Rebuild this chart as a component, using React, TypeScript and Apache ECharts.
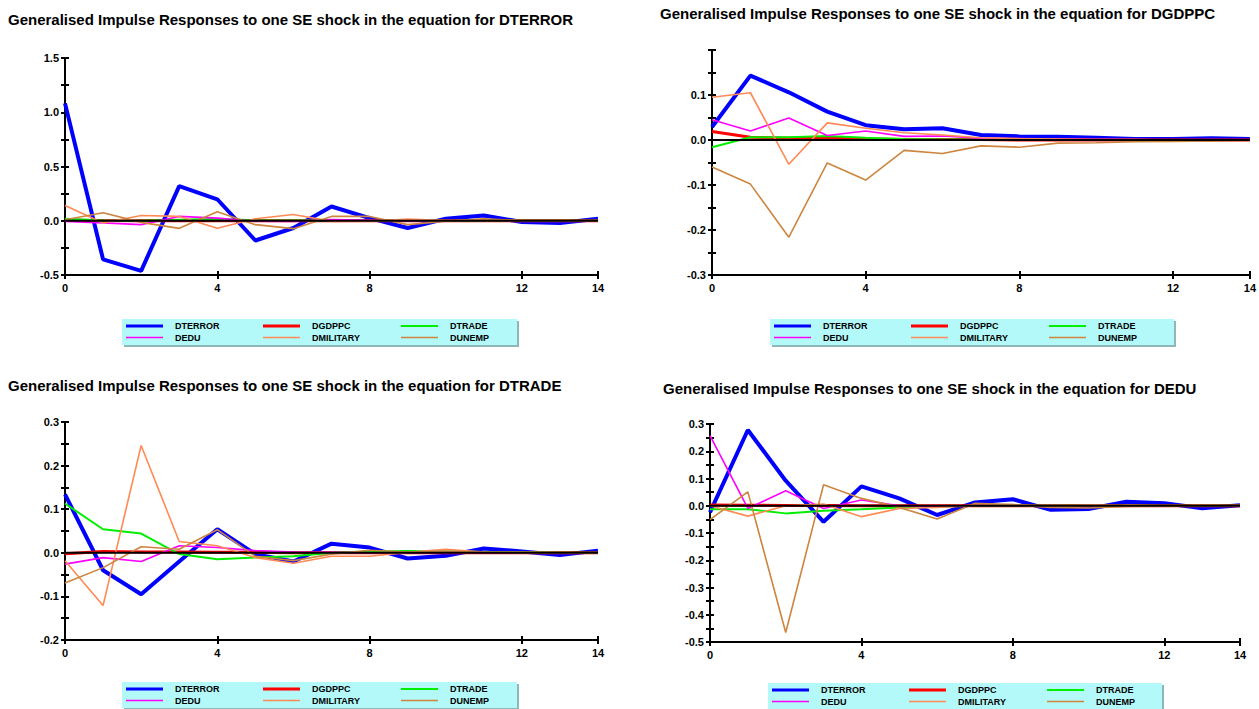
import React, { useEffect, useRef } from "react";
import * as echarts from "echarts";

// Horizon steps
const steps = [0, 1, 2, 3, 4, 5, 6, 7, 8, 9, 10, 11, 12, 13, 14];
const xTickLabels = [0, 4, 8, 12, 14];
const seriesNames = ["DTERROR", "DGDPPC", "DTRADE", "DEDU", "DMILITARY", "DUNEMP"];
const seriesColors = ["#0000ff", "#ff0000", "#00ee00", "#ff00ff", "#ff8a55", "#cd853f"];
const seriesWidths = [4, 3, 2, 1.6, 1.6, 1.6];

const panelTitles = [
  "Generalised Impulse Responses to one SE shock in the equation for DTERROR",
  "Generalised Impulse Responses to one SE shock in the equation for DGDPPC",
  "Generalised Impulse Responses to one SE shock in the equation for DTRADE",
  "Generalised Impulse Responses to one SE shock in the equation for DEDU",
];

// Shock: DTERROR
const terror_DTERROR = [1.082, -0.356, -0.462, 0.319, 0.198, -0.182, -0.067, 0.131, 0.024, -0.067, 0.018, 0.049, -0.012, -0.021, 0.018];
const terror_DGDPPC = [0.004, 0.002, 0.001, 0.002, 0.001, 0, 0, 0, 0, 0, 0, 0, 0, 0, 0];
const terror_DTRADE = [0.018, 0.002, 0.001, 0.01, 0.015, 0.004, 0.002, 0.002, 0.001, 0, 0, 0, 0, 0, 0];
const terror_DEDU = [-0.006, -0.02, -0.036, 0.04, 0.024, -0.004, -0.006, 0.012, 0.004, -0.004, 0.002, 0.002, 0, 0, 0];
const terror_DMILITARY = [0.14, -0.02, 0.049, 0.04, -0.07, 0.018, 0.058, -0.006, -0.004, 0.015, 0.002, 0.004, 0.001, 0, 0];
const terror_DUNEMP = [0.009, 0.073, -0.015, -0.07, 0.082, -0.036, -0.073, 0.04, 0.04, -0.036, -0.004, 0.018, 0.002, -0.002, 0.001];

// Shock: DGDPPC
const gdp_DTERROR = [0.029, 0.143, 0.106, 0.063, 0.033, 0.024, 0.026, 0.011, 0.008, 0.007, 0.005, 0.002, 0.002, 0.004, 0.002];
const gdp_DGDPPC = [0.019, 0.006, 0.004, 0.004, 0.002, 0.001, 0.001, 0.001, 0, 0, 0, 0, 0, 0, 0];
const gdp_DTRADE = [-0.016, 0.006, 0.006, 0.009, 0.005, 0.002, 0.001, 0.001, 0, 0, 0, 0, 0, 0, 0];
const gdp_DEDU = [0.045, 0.02, 0.049, 0.01, 0.02, 0.008, 0.009, 0.004, 0.003, 0.002, 0.001, 0.001, 0, 0, 0];
const gdp_DMILITARY = [0.095, 0.105, -0.054, 0.038, 0.026, 0.016, 0.011, 0.005, 0.003, 0.002, 0.001, 0.001, 0, 0, 0];
const gdp_DUNEMP = [-0.06, -0.098, -0.216, -0.051, -0.089, -0.023, -0.03, -0.013, -0.016, -0.007, -0.006, -0.004, -0.003, -0.002, -0.001];

// Shock: DTRADE
const trade_DTERROR = [0.134, -0.04, -0.095, -0.02, 0.054, -0.003, -0.02, 0.021, 0.012, -0.013, -0.007, 0.01, 0.003, -0.005, 0.005];
const trade_DGDPPC = [-0.002, 0.003, 0.002, 0.002, 0.001, 0.001, 0, 0, 0, 0, 0, 0, 0, 0, 0];
const trade_DTRADE = [0.113, 0.054, 0.044, -0.003, -0.015, -0.011, -0.008, 0, 0.003, 0.004, 0.003, 0.002, 0.001, 0, 0];
const trade_DEDU = [-0.026, -0.011, -0.02, 0.016, 0.012, 0.005, 0.002, 0.001, 0, 0, 0, 0, 0, 0, 0];
const trade_DMILITARY = [-0.018, -0.121, 0.246, 0.026, 0.016, -0.011, -0.024, -0.008, -0.008, 0.001, 0.008, 0.002, 0.001, 0, 0];
const trade_DUNEMP = [-0.069, -0.034, 0.014, 0.008, 0.053, -0.008, -0.018, -0.003, 0.006, 0.002, 0.004, 0.002, 0.001, 0, 0];

// Shock: DEDU
const edu_DTERROR = [-0.024, 0.278, 0.092, -0.059, 0.071, 0.027, -0.034, 0.012, 0.024, -0.015, -0.012, 0.015, 0.009, -0.009, 0.002];
const edu_DGDPPC = [0.003, 0.002, 0.001, 0.001, 0, 0, 0, 0, 0, 0, 0, 0, 0, 0, 0];
const edu_DTRADE = [-0.013, -0.013, -0.028, -0.018, -0.013, -0.006, -0.003, 0, 0.001, 0, 0, 0, 0, 0, 0];
const edu_DEDU = [0.257, -0.01, 0.055, -0.01, 0.021, 0, -0.004, 0.002, 0.001, 0, 0, 0, 0, 0, 0];
const edu_DMILITARY = [0, -0.038, 0, 0.006, -0.04, -0.01, -0.006, 0.002, 0.004, -0.003, 0.002, 0.001, 0, 0, 0];
const edu_DUNEMP = [-0.051, 0.051, -0.465, 0.077, 0.027, -0.006, -0.049, 0.009, 0.004, -0.006, -0.008, -0.003, 0, -0.002, 0];

const panelData = [
  [terror_DTERROR, terror_DGDPPC, terror_DTRADE, terror_DEDU, terror_DMILITARY, terror_DUNEMP],
  [gdp_DTERROR, gdp_DGDPPC, gdp_DTRADE, gdp_DEDU, gdp_DMILITARY, gdp_DUNEMP],
  [trade_DTERROR, trade_DGDPPC, trade_DTRADE, trade_DEDU, trade_DMILITARY, trade_DUNEMP],
  [edu_DTERROR, edu_DGDPPC, edu_DTRADE, edu_DEDU, edu_DMILITARY, edu_DUNEMP],
];

// y-axis tick / label values per panel
const yTicks1 = [-0.5, -0.25, 0, 0.25, 0.5, 0.75, 1, 1.25, 1.5];
const yLabels1 = [-0.5, 0, 0.5, 1, 1.5];
const yTicks2 = [-0.3, -0.25, -0.2, -0.15, -0.1, -0.05, 0, 0.05, 0.1, 0.15, 0.2];
const yLabels2 = [-0.3, -0.2, -0.1, 0, 0.1];
const yTicks3 = [-0.2, -0.15, -0.1, -0.05, 0, 0.05, 0.1, 0.15, 0.2, 0.25, 0.3];
const yLabels3 = [-0.2, -0.1, 0, 0.1, 0.2, 0.3];
const yTicks4 = [-0.5, -0.45, -0.4, -0.35, -0.3, -0.25, -0.2, -0.15, -0.1, -0.05, 0, 0.05, 0.1, 0.15, 0.2, 0.25, 0.3];
const yLabels4 = [-0.5, -0.4, -0.3, -0.2, -0.1, 0, 0.1, 0.2, 0.3];

const FONT = "Liberation Sans";

const panels = [
  { grid: { left: 65, top: 58, width: 533, height: 217 }, yMin: -0.5, yMax: 1.5, yTicks: yTicks1, yLabels: yLabels1, title: { left: 8, top: 12 }, legend: { x: 122, y: 319, w: 395 } },
  { grid: { left: 712, top: 50, width: 546, height: 225 }, yMin: -0.3, yMax: 0.2, yTicks: yTicks2, yLabels: yLabels2, title: { left: 660, top: 6 }, legend: { x: 770, y: 319, w: 404 } },
  { grid: { left: 65, top: 422, width: 533, height: 218 }, yMin: -0.2, yMax: 0.3, yTicks: yTicks3, yLabels: yLabels3, title: { left: 8, top: 378 }, legend: { x: 122, y: 682, w: 395 } },
  { grid: { left: 710, top: 424, width: 530, height: 218 }, yMin: -0.5, yMax: 0.3, yTicks: yTicks4, yLabels: yLabels4, title: { left: 663, top: 381 }, legend: { x: 768, y: 683, w: 394 } },
];

function buildOption() {
  const grids: any[] = [];
  const xAxes: any[] = [];
  const yAxes: any[] = [];
  const series: any[] = [];
  const titles: any[] = [];
  const graphics: any[] = [];

  panels.forEach((p, pi) => {
    grids.push({ ...p.grid, containLabel: false });
    titles.push({
      text: panelTitles[pi],
      left: p.title.left,
      top: p.title.top,
      padding: 0,
      textStyle: { fontFamily: FONT, fontWeight: "bold", fontSize: 15, color: "#000" },
    });
    const lineStyle = { color: "#000", width: 2 };
    const labelStyle = { color: "#000", fontFamily: FONT, fontWeight: "bold", fontSize: 11 };
    // main x axis (line, labels, outward ticks)
    xAxes.push({
      type: "value", gridIndex: pi, min: 0, max: 14, position: "bottom",
      axisLine: { show: true, onZero: false, lineStyle },
      axisTick: { show: true, inside: false, length: 4, lineStyle, customValues: xTickLabels },
      axisLabel: { ...labelStyle, margin: 7, customValues: xTickLabels, hideOverlap: false, formatter: (v: number) => String(v) },
      splitLine: { show: false },
    });
    // overlay x axis (inward ticks -> crossing ticks)
    xAxes.push({
      type: "value", gridIndex: pi, min: 0, max: 14, position: "bottom",
      axisLine: { show: false, onZero: false },
      axisTick: { show: true, inside: true, length: 4, lineStyle, customValues: xTickLabels },
      axisLabel: { show: false },
      splitLine: { show: false },
    });
    yAxes.push({
      type: "value", gridIndex: pi, min: p.yMin, max: p.yMax, position: "left",
      axisLine: { show: true, onZero: false, lineStyle },
      axisTick: { show: true, inside: false, length: 4, lineStyle, customValues: p.yTicks },
      axisLabel: { ...labelStyle, margin: 6, customValues: p.yLabels, formatter: (v: number) => v.toFixed(1) },
      splitLine: { show: false },
    });
    yAxes.push({
      type: "value", gridIndex: pi, min: p.yMin, max: p.yMax, position: "left",
      axisLine: { show: false, onZero: false },
      axisTick: { show: true, inside: true, length: 4, lineStyle, customValues: p.yTicks },
      axisLabel: { show: false },
      splitLine: { show: false },
    });

    panelData[pi].forEach((arr, si) => {
      series.push({
        type: "line",
        name: seriesNames[si],
        xAxisIndex: pi * 2,
        yAxisIndex: pi * 2,
        data: steps.map((s, i) => [s, arr[i]]),
        showSymbol: false,
        symbol: "none",
        lineStyle: { color: seriesColors[si], width: seriesWidths[si] },
        itemStyle: { color: seriesColors[si] },
        z: 2,
      });
    });
    // zero reference line
    series.push({
      type: "line",
      name: "zero",
      xAxisIndex: pi * 2,
      yAxisIndex: pi * 2,
      data: [[0, 0], [14, 0]],
      showSymbol: false,
      symbol: "none",
      lineStyle: { color: "#000", width: 2 },
      z: 3,
    });

    // legend box
    const L = p.legend;
    const h = 26;
    graphics.push({ type: "rect", left: L.x + 2, top: L.y + 2, shape: { width: L.w, height: h }, style: { fill: "#8fb7b7" }, z: 1 });
    graphics.push({ type: "rect", left: L.x, top: L.y, shape: { width: L.w, height: h }, style: { fill: "#b4f9f9" }, z: 2 });
    const cols = [4, 141, 279];
    const rows = [7, 18.5];
    seriesNames.forEach((name, si) => {
      const c = si % 3;
      const r = Math.floor(si / 3);
      const cy = L.y + rows[r];
      graphics.push({
        type: "line",
        shape: { x1: L.x + cols[c], y1: cy, x2: L.x + cols[c] + 37, y2: cy },
        style: { stroke: seriesColors[si], lineWidth: Math.min(seriesWidths[si], 3) },
        z: 3,
      });
      graphics.push({
        type: "text",
        x: L.x + cols[c] + 49,
        y: cy,
        style: { text: name, fill: "#000", font: `bold 9px "${FONT}"`, verticalAlign: "middle" },
        z: 3,
      });
    });
  });

  return {
    animation: false,
    backgroundColor: "#ffffff",
    title: titles,
    grid: grids,
    xAxis: xAxes,
    yAxis: yAxes,
    series,
    graphic: graphics,
  };
}

export default function App() {
  const ref = useRef<HTMLDivElement>(null);
  useEffect(() => {
    if (!ref.current) return;
    const chart = echarts.init(ref.current, null, { renderer: "svg" });
    chart.setOption(buildOption() as any);
    return () => chart.dispose();
  }, []);
  return (
    <div
      ref={ref}
      style={{ position: "absolute", left: 0, top: 0, width: 1259, height: 709, background: "#fff" }}
    />
  );
}
